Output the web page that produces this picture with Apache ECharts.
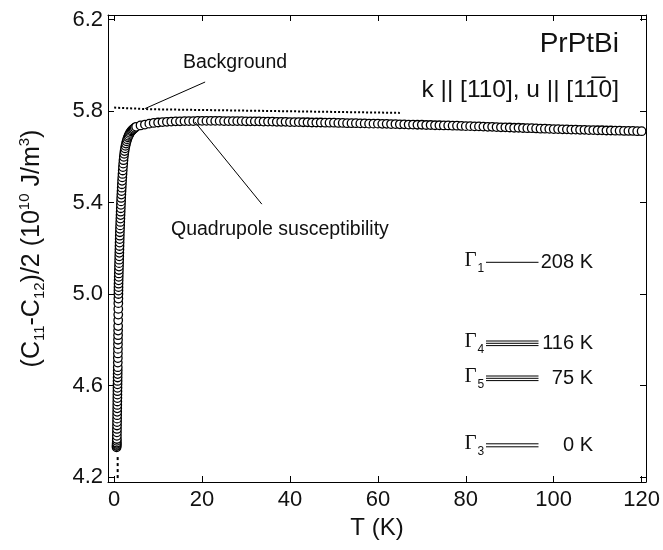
<!DOCTYPE html>
<html>
<head>
<meta charset="utf-8">
<script src="https://cdn.jsdelivr.net/npm/echarts@6/dist/echarts.min.js"></script>
<style>
html,body{margin:0;padding:0;background:#fff;}
#chart{width:663px;height:550px;}
</style>
</head>
<body>
<div id="chart"></div>
<script>
// ---------- data ----------
const xTicks = [0, 20, 40, 60, 80, 100, 120];
const yTicks = [4.2, 4.6, 5.0, 5.4, 5.8, 6.2];

// low-temperature part of the measured curve
const tempLow = [0.55,0.56,0.57,0.58,0.59,0.60,0.61,
  0.62,0.63,0.64,0.65,0.66,0.67,0.68,0.69,0.70,0.71,0.72,0.73,0.74,0.75,0.76,0.77,0.78,0.79,0.80,
  0.81,0.82,0.83,0.84,0.85,0.86,0.87,0.88,0.89,0.90,0.91,0.92,0.93,0.94,0.95,0.96,0.97,0.98,0.99,1.00,
  1.02,1.04,1.06,1.08,1.10,1.12,1.14,1.16,1.18,1.20,1.22,1.24,1.26,1.28,1.30,1.33,1.36,1.39,1.42,1.45,
  1.48,1.51,1.54,1.57,1.60,1.64,1.68,1.72,1.76,1.80,1.85,1.90,1.95,2.00,2.06,2.12,2.20,2.28,2.37,2.47,
  2.58,2.70,2.83,2.97,3.12,3.28,3.45,3.63,3.82,4.02,4.23,4.45,4.70];
const valLow = [4.330,4.335,4.340,4.345,4.350,4.358,4.366,
  4.380,4.395,4.410,4.425,4.440,4.455,4.470,4.485,4.500,4.515,4.530,4.545,4.560,4.575,4.590,4.605,4.620,4.635,4.650,
  4.665,4.680,4.700,4.720,4.740,4.760,4.780,4.800,4.820,4.840,4.860,4.885,4.910,4.935,4.960,4.980,5.000,5.015,5.030,5.045,
  5.060,5.075,5.090,5.105,5.120,5.135,5.150,5.165,5.180,5.195,5.210,5.225,5.240,5.255,5.270,5.285,5.300,5.315,5.330,5.345,
  5.360,5.375,5.390,5.405,5.420,5.435,5.450,5.465,5.480,5.495,5.510,5.525,5.540,5.555,5.570,5.585,5.600,5.613,5.625,5.637,
  5.648,5.658,5.668,5.677,5.685,5.692,5.699,5.705,5.711,5.715,5.719,5.723,5.727];

// higher-temperature part of the measured curve
const tempHigh = [5,6,7,8,9,10,11,12,13,14,15,16,17,18,19,20,21,22,23,24,25,26,27,28,29,30,
  31,32,33,34,35,36,37,38,39,40,41,42,43,44,45,46,47,48,49,50,51,52,53,54,55,56,57,58,59,60,
  61,62,63,64,65,66,67,68,69,70,71,72,73,74,75,76,77,78,79,80,81,82,83,84,85,86,87,88,89,90,
  91,92,93,94,95,96,97,98,99,100,101,102,103,104,105,106,107,108,109,110,111,112,113,114,115,116,117,118,119,120];
const valHigh = [5.731,5.737,5.741,5.745,5.748,5.750,5.752,5.753,5.754,5.755,5.755,5.756,5.756,5.756,5.757,5.757,5.757,5.757,5.757,5.757,5.756,5.756,5.756,5.756,5.756,5.755,
  5.755,5.755,5.755,5.754,5.754,5.754,5.753,5.753,5.753,5.752,5.752,5.752,5.751,5.751,5.750,5.750,5.750,5.749,5.749,5.749,5.748,5.748,5.747,5.747,5.747,5.746,5.746,5.745,5.745,5.745,
  5.744,5.744,5.743,5.743,5.742,5.742,5.741,5.741,5.740,5.740,5.739,5.739,5.738,5.738,5.737,5.737,5.736,5.736,5.735,5.734,5.734,5.733,5.733,5.732,5.731,5.731,5.730,5.729,5.729,5.728,
  5.727,5.727,5.726,5.725,5.725,5.724,5.723,5.723,5.722,5.721,5.721,5.720,5.720,5.719,5.719,5.718,5.718,5.717,5.717,5.716,5.716,5.715,5.715,5.714,5.714,5.713,5.713,5.713,5.712,5.712];

// background (dotted)
const bgT = [0, 8, 65];
const bgV = [5.815, 5.808, 5.792];
// dotted continuation below the lowest point
const tailT = [0.8, 0.8];
const tailV = [4.287, 4.195];

// annotation leader lines (data space)
const leaderBgT = [20.7, 7.05];
const leaderBgV = [5.927, 5.811];
const leaderQT = [18.4, 33.6];
const leaderQV = [5.752, 5.393];

// texts
const sampleName = 'PrPtBi';
const geometryText = 'k || [110], u || [11\u03050]';
const bgLabel = 'Background';
const qLabel = 'Quadrupole susceptibility';
const levelNames = ['1', '4', '5', '3'];
const levelEnergies = ['208 K', '116 K', '75 K', '0 K'];
const levelMultiplicity = [1, 3, 3, 2];

// ---------- build ----------
const zip = (a, b) => a.map((v, i) => [v, b[i]]);
const FONT = '"Liberation Sans", Arial, Helvetica, sans-serif';
const SERIF = '"Liberation Serif", "Times New Roman", serif';
const INK = '#111';

const chart = echarts.init(document.getElementById('chart'), null, {renderer: 'canvas'});

const axisCommon = {
  type: 'value',
  splitLine: {show: false},
  axisLine: {show: true, onZero: false, lineStyle: {color: '#000', width: 1}},
};
const xRange = {min: -1.4, max: 121};
const yRange = {min: 4.178, max: 6.22};

// level diagram layout (pixels)
const levelY = [262.3, 343.3, 378.3, 445.3];
const lineX0 = 486, lineX1 = 538.5, gammaX = 464.5, subX = 477.5, energyRight = 593;
const graphics = [];
levelNames.forEach((n, i) => {
  const y = levelY[i];
  graphics.push({type: 'text', x: gammaX, y: y - 1.5, style: {text: '\u0393', font: '21px ' + SERIF, fill: INK, align: 'left', verticalAlign: 'middle', textAlign: 'left', textVerticalAlign: 'middle'}});
  graphics.push({type: 'text', x: subX, y: y + 6, style: {text: n, font: '12px ' + FONT, fill: INK, align: 'left', verticalAlign: 'middle', textAlign: 'left', textVerticalAlign: 'middle'}});
  const m = levelMultiplicity[i];
  const offs = m === 1 ? [0] : (m === 2 ? [-1.5, 1.5] : [-2.3, 0, 2.3]);
  offs.forEach(o => {
    graphics.push({type: 'line', shape: {x1: lineX0, y1: y + o, x2: lineX1, y2: y + o}, style: {stroke: '#000', lineWidth: 1}});
  });
  graphics.push({type: 'text', x: energyRight, y: y, style: {text: levelEnergies[i], font: '20px ' + FONT, fill: INK, align: 'right', verticalAlign: 'middle', textAlign: 'right', textVerticalAlign: 'middle'}});
});
graphics.push({type: 'text', x: 619, y: 44, style: {text: sampleName, font: '28px ' + FONT, fill: INK, align: 'right', verticalAlign: 'middle', textAlign: 'right', textVerticalAlign: 'middle'}});
graphics.push({type: 'text', x: 619, y: 90, style: {text: geometryText, font: '24.5px ' + FONT, fill: INK, align: 'right', verticalAlign: 'middle', textAlign: 'right', textVerticalAlign: 'middle'}});
graphics.push({type: 'text', x: 183, y: 62.5, style: {text: bgLabel, font: '19.5px ' + FONT, fill: INK, align: 'left', verticalAlign: 'middle', textAlign: 'left', textVerticalAlign: 'middle'}});
graphics.push({type: 'text', x: 171, y: 229.5, style: {text: qLabel, font: '19.5px ' + FONT, fill: INK, align: 'left', verticalAlign: 'middle', textAlign: 'left', textVerticalAlign: 'middle'}});

const option = {
  backgroundColor: '#fff',
  animation: false,
  grid: {left: 108, right: 17, top: 15, bottom: 68, containLabel: false},
  xAxis: [
    Object.assign({}, axisCommon, xRange, {
      position: 'bottom',
      axisTick: {show: true, inside: true, length: 6, customValues: xTicks, lineStyle: {color: '#000', width: 1}},
      axisLabel: {show: true, customValues: xTicks, fontSize: 22, fontFamily: FONT, color: INK, margin: 7},
      name: 'T (K)', nameLocation: 'middle', nameGap: 33,
      nameTextStyle: {fontSize: 24, fontFamily: FONT, color: INK}
    }),
    Object.assign({}, axisCommon, xRange, {
      position: 'top',
      axisTick: {show: true, inside: true, length: 6, customValues: xTicks, lineStyle: {color: '#000', width: 1}},
      axisLabel: {show: false}
    })
  ],
  yAxis: [
    Object.assign({}, axisCommon, yRange, {
      position: 'left',
      axisTick: {show: true, inside: true, length: 6, customValues: yTicks, lineStyle: {color: '#000', width: 1}},
      axisLabel: {show: true, customValues: yTicks, fontSize: 22, fontFamily: FONT, color: INK, margin: 5,
        formatter: v => Number(v).toFixed(1)},
      name: '(C{sub|11}-C{sub|12})/2 (10{sup|10} J/m{sup|3})',
      nameLocation: 'middle', nameRotate: 90, nameGap: 61,
      nameTextStyle: {
        fontSize: 25, fontFamily: FONT, color: INK, lineHeight: 30,
        rich: {
          sub: {fontSize: 15, fontFamily: FONT, color: INK, lineHeight: 15, verticalAlign: 'bottom'},
          sup: {fontSize: 15, fontFamily: FONT, color: INK, lineHeight: 15, verticalAlign: 'top'}
        }
      }
    }),
    Object.assign({}, axisCommon, yRange, {
      position: 'right',
      axisTick: {show: true, inside: true, length: 6, customValues: yTicks, lineStyle: {color: '#000', width: 1}},
      axisLabel: {show: false}
    })
  ],
  series: [
    {type: 'line', data: zip(bgT, bgV), showSymbol: false, symbol: 'none', z: 1,
      lineStyle: {color: '#000', width: 2, type: [2, 2]}, silent: true},
    {type: 'line', data: zip(tailT, tailV), showSymbol: false, symbol: 'none', z: 1,
      lineStyle: {color: '#000', width: 2, type: [3, 3]}, silent: true},
    {type: 'line', data: zip(leaderBgT, leaderBgV), showSymbol: false, symbol: 'none', z: 3,
      lineStyle: {color: '#000', width: 1}, silent: true},
    {type: 'line', data: zip(leaderQT, leaderQV), showSymbol: false, symbol: 'none', z: 3,
      lineStyle: {color: '#000', width: 1}, silent: true},
    {type: 'scatter', data: zip(tempLow, valLow).concat(zip(tempHigh, valHigh)),
      symbol: 'circle', symbolSize: 8.5, z: 2, large: false, silent: true,
      itemStyle: {color: '#fff', borderColor: '#000', borderWidth: 1.3, opacity: 1}}
  ],
  graphic: graphics
};
chart.setOption(option);
</script>
</body>
</html>
